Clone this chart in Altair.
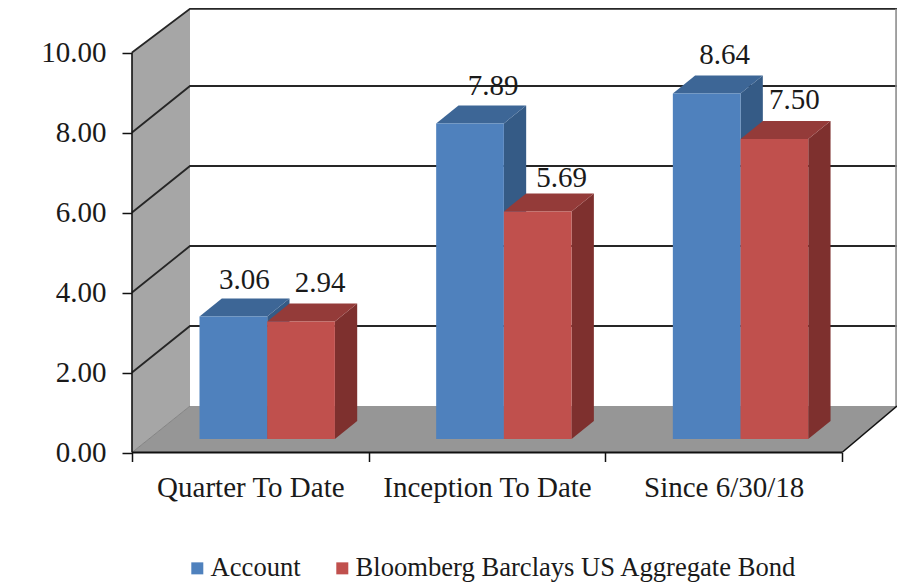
import json
import altair as alt
import pandas as pd

CATEGORIES = ["Quarter To Date", "Inception To Date", "Since 6/30/18"]
SERIES = ["Account", "Bloomberg Barclays US Aggregate Bond"]
ACCOUNT = [3.06, 7.89, 8.64]
BENCHMARK = [2.94, 5.69, 7.50]
Y_TICKS = [0, 2, 4, 6, 8, 10]

# layout (pixels converted to scale units)
PX_X = 236.67
PX_Y = 40.0
W, H = 765, 444.5
XMAX, YMAX = W / PX_X, H / PX_Y
FONT = "Liberation Serif"
WALL_DX, WALL_DY = 58 / PX_X, 46.5 / PX_Y
BASE = 13.5 / PX_Y
BAR_W = 67.7 / PX_X
BAR_OFF = 67.5 / PX_X
SIDE_DX, SIDE_DY = 22.3 / PX_X, 18 / PX_Y
LABEL_DY = 37 / PX_Y
LABEL_NUDGE = {0: [11, 23, 18], 1: [19, 24, 20]}
LABEL_LIFT = {0: [0, 0, 1], 1: [1, -4, 2]}
TOP_Y = YMAX - 0.02
TEXT_SIZE = 29
LEGEND_SIZE = 26.6

FRONT = ["#4F81BD", "#C0504D"]
TOPC = ["#3D6696", "#943B39"]
SIDEC = ["#355B86", "#7E302E"]
WALL = "#A6A6A6"
FLOOR = "#969696"
INK = "#1A1A1A"

xs = alt.Scale(domain=[0, XMAX], nice=False, zero=False)
ys = alt.Scale(domain=[0, YMAX], nice=False, zero=False)
X = alt.X("x:Q", scale=xs, title=None)
Y = alt.Y("y:Q", scale=ys, title=None, stack=None)

layers = []

# walls
wall = pd.DataFrame({"x": [0, WALL_DX], "y": [0, WALL_DY], "y2": [10, TOP_Y]})
layers.append(alt.Chart(wall).mark_area(color=WALL, opacity=1, orient="vertical").encode(X, Y, y2="y2:Q"))
floor = pd.DataFrame({"y": [0, WALL_DY], "x": [0, WALL_DX], "x2": [3, XMAX]})
layers.append(alt.Chart(floor).mark_area(color=FLOOR, opacity=1, orient="horizontal").encode(X, Y, x2="x2:Q"))

# grid lines on the side and back walls
rows = []
for t in Y_TICKS[1:]:
    by = min(t + WALL_DY, TOP_Y)
    for i, (a, b) in enumerate([(0, t), (WALL_DX, by), (XMAX, by)]):
        rows.append({"x": a, "y": b, "o": i, "t": t})
layers.append(
    alt.Chart(pd.DataFrame(rows))
    .mark_line(color="#262626", strokeWidth=1.8, clip=False)
    .encode(X, Y, detail="t:N", order="o:Q")
)
edge = pd.DataFrame({"x": [XMAX - 0.004, XMAX - 0.004], "y": [WALL_DY, TOP_Y], "o": [0, 1]})
layers.append(alt.Chart(edge).mark_line(color="#8C8C8C", strokeWidth=1.6).encode(X, Y, order="o:Q"))
thin = pd.DataFrame({"x": [0, WALL_DX], "y": [0, WALL_DY], "o": [0, 1]})
layers.append(alt.Chart(thin).mark_line(color="#777777", strokeWidth=0.8).encode(X, Y, order="o:Q"))

# 3-D bars
for s, values in enumerate([ACCOUNT, BENCHMARK]):
    side, top, front = [], [], []
    for c, v in enumerate(values):
        x0 = c + BAR_OFF + s * BAR_W
        x1 = x0 + BAR_W
        t = BASE + v
        side += [
            {"c": c, "x": x1, "y": BASE, "y2": t},
            {"c": c, "x": x1 + SIDE_DX, "y": BASE + SIDE_DY, "y2": t + SIDE_DY},
        ]
        top += [
            {"c": c, "y": t, "x": x0, "x2": x1},
            {"c": c, "y": t + SIDE_DY, "x": x0 + SIDE_DX, "x2": x1 + SIDE_DX},
        ]
        front.append({"x": x0, "x2": x1, "y": BASE, "y2": t, "series": SERIES[s]})
    layers.append(
        alt.Chart(pd.DataFrame(side))
        .mark_area(color=SIDEC[s], opacity=1, orient="vertical")
        .encode(X, Y, y2="y2:Q", detail="c:N")
    )
    layers.append(
        alt.Chart(pd.DataFrame(top))
        .mark_area(color=TOPC[s], opacity=1, orient="horizontal")
        .encode(X, Y, x2="x2:Q", detail="c:N")
    )
    layers.append(
        alt.Chart(pd.DataFrame(front))
        .mark_rect(opacity=1)
        .encode(
            X,
            Y,
            x2="x2:Q",
            y2="y2:Q",
            color=alt.Color(
                "series:N",
                scale=alt.Scale(domain=SERIES, range=FRONT),
                legend=alt.Legend(
                    orient="none",
                    legendX=52,
                    legendY=547,
                    direction="horizontal",
                    columns=2,
                    title=None,
                    symbolType="square",
                    symbolSize=144,
                    symbolStrokeWidth=0,
                    symbolOpacity=1,
                    labelFont=FONT,
                    labelFontSize=LEGEND_SIZE,
                    labelColor=INK,
                    labelLimit=600,
                    labelOffset=0,
                    columnPadding=28,
                    padding=0,
                ),
            ),
        )
    )

# front axis lines
front_x = pd.DataFrame({"x": [0, 3], "y": [0, 0], "o": [0, 1]})
layers.append(alt.Chart(front_x).mark_line(color="#111111", strokeWidth=2).encode(X, Y, order="o:Q"))
front_y = pd.DataFrame({"x": [0, 0], "y": [0, 10], "o": [0, 1]})
layers.append(alt.Chart(front_y).mark_line(color="#111111", strokeWidth=1.6).encode(X, Y, order="o:Q"))
diag = pd.DataFrame({"x": [3, XMAX], "y": [0, WALL_DY], "o": [0, 1]})
layers.append(alt.Chart(diag).mark_line(color="#111111", strokeWidth=1.6).encode(X, Y, order="o:Q"))

# value labels
lab = []
for s, values in enumerate([ACCOUNT, BENCHMARK]):
    for c, v in enumerate(values):
        lab.append({
            "x": c + BAR_OFF + (s + 0.5) * BAR_W + LABEL_NUDGE[s][c] / PX_X,
            "y": BASE + v + LABEL_DY + LABEL_LIFT[s][c] / PX_Y,
            "label": f"{v:.2f}",
        })
layers.append(
    alt.Chart(pd.DataFrame(lab))
    .mark_text(font=FONT, fontSize=TEXT_SIZE, color=INK, baseline="middle", align="center")
    .encode(X, Y, text="label:N")
)

# axes live on an invisible carrier layer
x_vals = [0, 0.5, 1, 1.5, 2, 2.5, 3]
label_expr = "datum.value % 1 == 0 ? '' : " + json.dumps(CATEGORIES) + "[floor(datum.value)]"
axes = alt.Chart(pd.DataFrame({"x": [0], "y": [0]})).mark_point(opacity=0).encode(
    x=alt.X(
        "x:Q",
        scale=xs,
        title=None,
        axis=alt.Axis(
            values=x_vals,
            labelExpr=label_expr,
            domain=False,
            grid=False,
            tickSize=9,
            tickWidth=1.5,
            tickColor="#111111",
            tickOpacity={"condition": {"test": "datum.value % 1 == 0", "value": 1}, "value": 0},
            labelFont=FONT,
            labelFontSize=TEXT_SIZE,
            labelColor=INK,
            labelPadding=12,
            labelLimit=400,
            labelOverlap=False,
            labelFlush=False,
            labelBound=False,
        ),
    ),
    y=alt.Y(
        "y:Q",
        scale=ys,
        title="TWR",
        axis=alt.Axis(
            values=Y_TICKS,
            format=".2f",
            domain=False,
            grid=False,
            tickSize=10,
            tickWidth=1.5,
            tickColor="#111111",
            labelFont=FONT,
            labelFontSize=TEXT_SIZE,
            labelColor=INK,
            labelPadding=16,
            labelOverlap=False,
            titleFont=FONT,
            titleFontSize=26,
            titleFontWeight="bold",
            titleColor=INK,
            titleX=-103,
            titleY=227,
        ),
    ),
)

chart = (
    alt.layer(axes, *layers)
    .properties(
        width=W,
        height=H,
        background="white",
        padding={"left": 124, "top": 0, "right": 0, "bottom": 130},
        autosize=alt.AutoSizeParams(type="none"),
    )
    .configure_view(stroke=None)
)
chart.save("out.html", embed_options={"renderer": "svg", "actions": False})
